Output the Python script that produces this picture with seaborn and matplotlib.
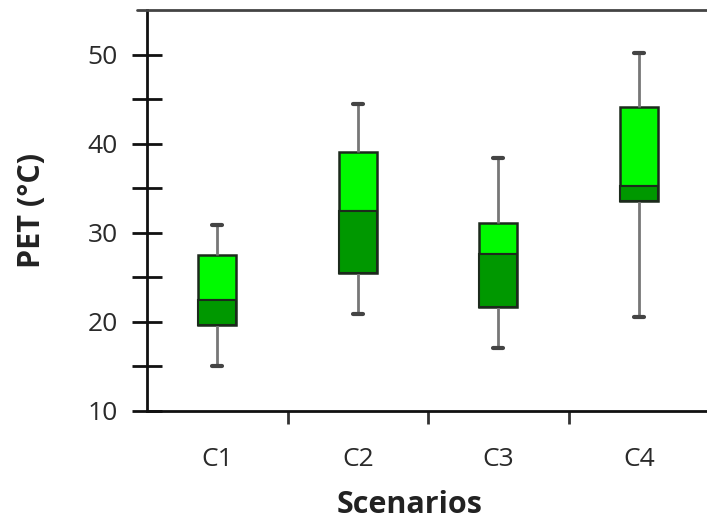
import matplotlib
matplotlib.use("Agg")
import matplotlib.pyplot as plt
from matplotlib.lines import Line2D
import seaborn as sns
import pandas as pd

# five-number summaries
scenarios = ['C1', 'C2', 'C3', 'C4']
whisk_low = [15.0, 20.9, 17.1, 20.6]
q1 = [19.6, 25.5, 21.7, 33.6]
median = [22.5, 32.4, 27.6, 35.2]
q3 = [27.5, 39.1, 31.1, 44.1]
whisk_high = [30.9, 44.5, 38.4, 50.2]

# five points per scenario give exactly these quartiles
rows = []
for i, s in enumerate(scenarios):
    for v in [whisk_low[i], q1[i], median[i], q3[i], whisk_high[i]]:
        rows.append({'scenario': s, 'PET': v})
df = pd.DataFrame(rows)

sns.set_style("white")
plt.rcParams['font.family'] = ['Open Sans', 'DejaVu Sans']

fig = plt.figure(figsize=(7.07, 5.23), dpi=100)
ax = fig.add_axes([147/707, 1 - 411/523, 562/707, 401/523])

light = '#00fa00'
dark = '#009800'
edge = '#1c2a1c'
box_w = 0.27

sns.boxplot(data=df, x='scenario', y='PET', ax=ax, whis=(0, 100), width=box_w,
            color=light, saturation=1, showfliers=False,
            boxprops=dict(facecolor=light, edgecolor=edge, linewidth=1.8),
            medianprops=dict(color=edge, linewidth=1.5),
            whiskerprops=dict(color='#777777', linewidth=2),
            capprops=dict(color='#444444', linewidth=3), capwidths=0.07)

# darker lower half of each box (Q1 to median)
ax.bar(range(len(scenarios)), [m - a for m, a in zip(median, q1)], bottom=q1,
       width=box_w, color=dark, edgecolor=edge, linewidth=1.5, zorder=3)

ax.set_xlim(-0.5, 3.5)
ax.set_ylim(10, 55)

ax.set_yticks([10, 20, 30, 40, 50])
ax.set_yticks([15, 25, 35, 45], minor=True)
ax.tick_params(axis='y', which='both', direction='inout', length=22, width=2,
               color='#111111', labelsize=19, labelcolor='#2a2a2a', pad=10, left=True)
ax.set_xticks(range(len(scenarios)))
ax.set_xticklabels(scenarios)
ax.set_xticks([0.5, 1.5, 2.5], minor=True)
ax.tick_params(axis='x', which='major', length=0, labelsize=19, labelcolor='#2a2a2a', pad=26)
ax.tick_params(axis='x', which='minor', direction='out', length=9, width=2,
               color='#333333', bottom=True)

for side in ['left', 'bottom']:
    ax.spines[side].set_color('#111111')
    ax.spines[side].set_linewidth(2)
ax.spines['right'].set_visible(False)
ax.spines['top'].set_visible(False)
fig.add_artist(Line2D([137/707, 1], [1 - 10/523, 1 - 10/523], color='#444444', linewidth=2))

ax.set_xlabel('Scenarios', fontsize=22, fontweight='bold', color='#222222')
ax.xaxis.set_label_coords((410 - 147)/562, -(490 - 411)/401)
ax.set_ylabel('PET (°C)', fontsize=22, fontweight='bold', color='#222222')
ax.yaxis.set_label_coords(-(147 - 47)/562, 0.5)

fig.savefig('out.png', dpi=100)
